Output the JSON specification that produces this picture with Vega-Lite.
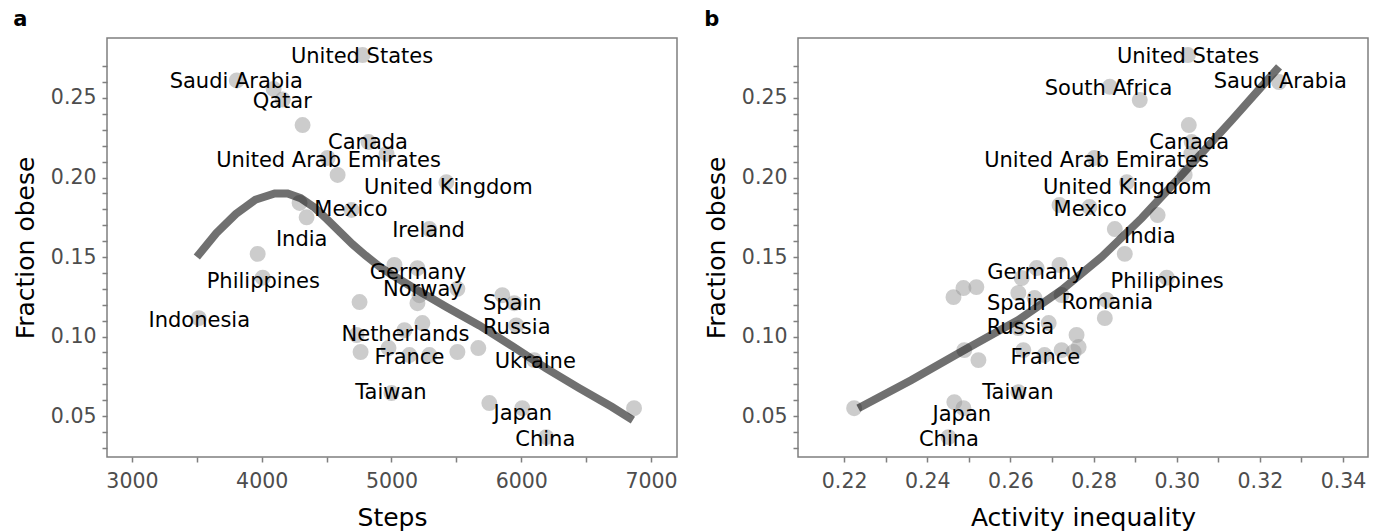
{
  "$schema": "https://vega.github.io/schema/vega-lite/v6.json",
  "padding": {"left": 12, "top": 8, "right": 5, "bottom": 2},
  "spacing": 25,
  "config": {
    "font": "DejaVu Sans",
    "view": {"stroke": "#7f7f7f", "strokeWidth": 1.5},
    "axis": {
      "domain": false, "grid": false,
      "tickColor": "#7f7f7f", "tickWidth": 1.5, "tickSize": 5,
      "labelColor": "#4d4d4d", "labelFontSize": 20.5, "labelFont": "DejaVu Sans",
      "titleFont": "DejaVu Sans", "titleFontSize": 25, "titleFontWeight": "normal", "titleColor": "black",
      "labelOverlap": false, "labelFlush": false, "labelBound": false
    },
    "axisX": {"labelPadding": 9, "titlePadding": 14},
    "axisY": {"labelPadding": 6, "titlePadding": 12},
    "title": {"fontSize": 21, "fontWeight": "bold", "anchor": "start", "frame": "bounds", "color": "black", "font": "DejaVu Sans", "offset": 8, "baseline": "alphabetic"}
  },
  "datasets": {
    "stepsPts": [
      {"steps": 4777, "obese": 0.277}, {"steps": 3808, "obese": 0.261}, {"steps": 4092, "obese": 0.2557},
      {"steps": 4162, "obese": 0.249}, {"steps": 4315, "obese": 0.233}, {"steps": 4823, "obese": 0.2223},
      {"steps": 4962, "obese": 0.2148}, {"steps": 4508, "obese": 0.2123}, {"steps": 4585, "obese": 0.2016},
      {"steps": 5423, "obese": 0.197}, {"steps": 4292, "obese": 0.184}, {"steps": 4692, "obese": 0.1796},
      {"steps": 4346, "obese": 0.175}, {"steps": 5292, "obese": 0.1676}, {"steps": 3969, "obese": 0.152},
      {"steps": 4008, "obese": 0.137}, {"steps": 3515, "obese": 0.1116}, {"steps": 4754, "obese": 0.1217},
      {"steps": 4731, "obese": 0.101}, {"steps": 4762, "obese": 0.0903}, {"steps": 4977, "obese": 0.0928},
      {"steps": 5000, "obese": 0.0645}, {"steps": 5023, "obese": 0.145}, {"steps": 5200, "obese": 0.143},
      {"steps": 5215, "obese": 0.126}, {"steps": 5508, "obese": 0.13}, {"steps": 5200, "obese": 0.121},
      {"steps": 5854, "obese": 0.126}, {"steps": 5946, "obese": 0.121}, {"steps": 5962, "obese": 0.107},
      {"steps": 5238, "obese": 0.1085}, {"steps": 5100, "obese": 0.104}, {"steps": 5138, "obese": 0.0884},
      {"steps": 5292, "obese": 0.0884}, {"steps": 5508, "obese": 0.0903}, {"steps": 5669, "obese": 0.0928},
      {"steps": 6100, "obese": 0.0852}, {"steps": 5754, "obese": 0.0582}, {"steps": 6008, "obese": 0.055},
      {"steps": 6192, "obese": 0.0368}, {"steps": 6869, "obese": 0.055}
    ],
    "stepsFit": [
      {"steps": 3500, "obese": 0.150}, {"steps": 3650, "obese": 0.165}, {"steps": 3800, "obese": 0.177},
      {"steps": 3950, "obese": 0.186}, {"steps": 4100, "obese": 0.190}, {"steps": 4200, "obese": 0.190},
      {"steps": 4300, "obese": 0.187}, {"steps": 4408, "obese": 0.181}, {"steps": 4500, "obese": 0.174},
      {"steps": 4600, "obese": 0.166}, {"steps": 4700, "obese": 0.158}, {"steps": 4800, "obese": 0.151},
      {"steps": 4908, "obese": 0.144}, {"steps": 5000, "obese": 0.139}, {"steps": 5162, "obese": 0.131},
      {"steps": 5423, "obese": 0.1186}, {"steps": 5677, "obese": 0.107}, {"steps": 5931, "obese": 0.094},
      {"steps": 6192, "obese": 0.080}, {"steps": 6446, "obese": 0.0676}, {"steps": 6700, "obese": 0.0557},
      {"steps": 6860, "obese": 0.0475}
    ],
    "stepsLabels": [
      {"country": "United States", "steps": 4773, "obese": 0.2761},
      {"country": "Saudi Arabia", "steps": 3804, "obese": 0.2604},
      {"country": "Qatar", "steps": 4158, "obese": 0.2478},
      {"country": "Canada", "steps": 4819, "obese": 0.2226},
      {"country": "United Arab Emirates", "steps": 4515, "obese": 0.211},
      {"country": "United Kingdom", "steps": 5438, "obese": 0.1943},
      {"country": "Mexico", "steps": 4688, "obese": 0.1799},
      {"country": "Ireland", "steps": 5285, "obese": 0.167},
      {"country": "India", "steps": 4308, "obese": 0.1616},
      {"country": "Philippines", "steps": 4012, "obese": 0.1349},
      {"country": "Indonesia", "steps": 3519, "obese": 0.1104},
      {"country": "Germany", "steps": 5204, "obese": 0.1409},
      {"country": "Norway", "steps": 5242, "obese": 0.1302},
      {"country": "Spain", "steps": 5931, "obese": 0.1214},
      {"country": "Russia", "steps": 5965, "obese": 0.1063},
      {"country": "Netherlands", "steps": 5108, "obese": 0.1019},
      {"country": "France", "steps": 5138, "obese": 0.0874},
      {"country": "Ukraine", "steps": 6108, "obese": 0.0846},
      {"country": "Taiwan", "steps": 4996, "obese": 0.0654},
      {"country": "Japan", "steps": 6012, "obese": 0.0522},
      {"country": "China", "steps": 6185, "obese": 0.0355}
    ],
    "ineqPts": [
      {"ineq": 0.3027, "obese": 0.277}, {"ineq": 0.3246, "obese": 0.260}, {"ineq": 0.2839, "obese": 0.257},
      {"ineq": 0.2911, "obese": 0.2487}, {"ineq": 0.3029, "obese": 0.233}, {"ineq": 0.3036, "obese": 0.2223},
      {"ineq": 0.3035, "obese": 0.2148}, {"ineq": 0.2802, "obese": 0.2123}, {"ineq": 0.3019, "obese": 0.2016},
      {"ineq": 0.288, "obese": 0.197}, {"ineq": 0.2718, "obese": 0.1827}, {"ineq": 0.279, "obese": 0.1814},
      {"ineq": 0.2954, "obese": 0.1764}, {"ineq": 0.2851, "obese": 0.1676}, {"ineq": 0.2875, "obese": 0.152},
      {"ineq": 0.2976, "obese": 0.137}, {"ineq": 0.2831, "obese": 0.123}, {"ineq": 0.2827, "obese": 0.1116},
      {"ineq": 0.2463, "obese": 0.1248}, {"ineq": 0.2487, "obese": 0.1305}, {"ineq": 0.2518, "obese": 0.1311},
      {"ineq": 0.2627, "obese": 0.1368}, {"ineq": 0.2663, "obese": 0.1431}, {"ineq": 0.2718, "obese": 0.145},
      {"ineq": 0.2619, "obese": 0.1274}, {"ineq": 0.2658, "obese": 0.1242}, {"ineq": 0.2723, "obese": 0.1261},
      {"ineq": 0.2619, "obese": 0.1053}, {"ineq": 0.2692, "obese": 0.1085}, {"ineq": 0.2759, "obese": 0.101},
      {"ineq": 0.2764, "obese": 0.0934}, {"ineq": 0.2489, "obese": 0.0915}, {"ineq": 0.2523, "obese": 0.0852},
      {"ineq": 0.2631, "obese": 0.0915}, {"ineq": 0.2682, "obese": 0.0884}, {"ineq": 0.2723, "obese": 0.0915},
      {"ineq": 0.2752, "obese": 0.0903}, {"ineq": 0.2619, "obese": 0.0651}, {"ineq": 0.2224, "obese": 0.055},
      {"ineq": 0.2465, "obese": 0.0588}, {"ineq": 0.2487, "obese": 0.055}, {"ineq": 0.2451, "obese": 0.0368}
    ],
    "ineqFit": [
      {"ineq": 0.2234, "obese": 0.055}, {"ineq": 0.2361, "obese": 0.0726}, {"ineq": 0.2489, "obese": 0.0915},
      {"ineq": 0.2619, "obese": 0.1104}, {"ineq": 0.2723, "obese": 0.1292}, {"ineq": 0.2819, "obese": 0.150},
      {"ineq": 0.2916, "obese": 0.1745}, {"ineq": 0.3012, "obese": 0.2016}, {"ineq": 0.3133, "obese": 0.2362},
      {"ineq": 0.3246, "obese": 0.2695}
    ],
    "ineqLabels": [
      {"country": "United States", "ineq": 0.3027, "obese": 0.2761},
      {"country": "Saudi Arabia", "ineq": 0.3249, "obese": 0.2604},
      {"country": "South Africa", "ineq": 0.2836, "obese": 0.256},
      {"country": "Canada", "ineq": 0.303, "obese": 0.2226},
      {"country": "United Arab Emirates", "ineq": 0.2807, "obese": 0.211},
      {"country": "United Kingdom", "ineq": 0.2881, "obese": 0.1943},
      {"country": "Mexico", "ineq": 0.2792, "obese": 0.1799},
      {"country": "India", "ineq": 0.2935, "obese": 0.1632},
      {"country": "Philippines", "ineq": 0.2977, "obese": 0.1349},
      {"country": "Romania", "ineq": 0.2833, "obese": 0.122},
      {"country": "Germany", "ineq": 0.266, "obese": 0.1409},
      {"country": "Spain", "ineq": 0.2614, "obese": 0.1208},
      {"country": "Russia", "ineq": 0.2624, "obese": 0.1063},
      {"country": "France", "ineq": 0.2684, "obese": 0.0874},
      {"country": "Taiwan", "ineq": 0.2618, "obese": 0.0654},
      {"country": "Japan", "ineq": 0.2483, "obese": 0.0516},
      {"country": "China", "ineq": 0.2452, "obese": 0.0358}
    ]
  },
  "hconcat": [
    {
      "title": {"text": "a"},
      "width": 570, "height": 419,
      "encoding": {
        "x": {"field": "steps", "type": "quantitative", "title": "Steps",
              "scale": {"domain": [2808, 7200], "nice": false, "zero": false},
              "axis": {"values": [3000, 3500, 4000, 4500, 5000, 5500, 6000, 6500, 7000],
                       "labelExpr": "datum.value % 1000 === 0 ? format(datum.value, 'd') : ''"}},
        "y": {"field": "obese", "type": "quantitative", "title": "Fraction obese",
              "scale": {"domain": [0.0243, 0.2877], "nice": false, "zero": false},
              "axis": {"values": [0.03, 0.04, 0.05, 0.06, 0.07, 0.08, 0.09, 0.1, 0.11, 0.12, 0.13, 0.14, 0.15, 0.16, 0.17, 0.18, 0.19, 0.2, 0.21, 0.22, 0.23, 0.24, 0.25, 0.26, 0.27],
                       "labelExpr": "round(datum.value * 100) % 5 === 0 ? format(datum.value, '.2f') : ''"}}
      },
      "layer": [
        {"data": {"name": "stepsPts"}, "mark": {"type": "circle", "size": 254, "color": "#999999", "opacity": 0.5}},
        {"data": {"name": "stepsFit"}, "mark": {"type": "line", "color": "#000000", "opacity": 0.56, "strokeWidth": 8}},
        {"data": {"name": "stepsLabels"}, "mark": {"type": "text", "fontSize": 21, "color": "black", "align": "center", "baseline": "middle", "dy": 1, "font": "DejaVu Sans"},
         "encoding": {"text": {"field": "country", "type": "nominal"}}}
      ]
    },
    {
      "title": {"text": "b"},
      "width": 570, "height": 419,
      "encoding": {
        "x": {"field": "ineq", "type": "quantitative", "title": "Activity inequality",
              "scale": {"domain": [0.2089, 0.346], "nice": false, "zero": false},
              "axis": {"values": [0.22, 0.23, 0.24, 0.25, 0.26, 0.27, 0.28, 0.29, 0.3, 0.31, 0.32, 0.33, 0.34],
                       "labelExpr": "round(datum.value * 100) % 2 === 0 ? format(datum.value, '.2f') : ''"}},
        "y": {"field": "obese", "type": "quantitative", "title": "Fraction obese",
              "scale": {"domain": [0.0243, 0.2877], "nice": false, "zero": false},
              "axis": {"values": [0.03, 0.04, 0.05, 0.06, 0.07, 0.08, 0.09, 0.1, 0.11, 0.12, 0.13, 0.14, 0.15, 0.16, 0.17, 0.18, 0.19, 0.2, 0.21, 0.22, 0.23, 0.24, 0.25, 0.26, 0.27],
                       "labelExpr": "round(datum.value * 100) % 5 === 0 ? format(datum.value, '.2f') : ''"}}
      },
      "layer": [
        {"data": {"name": "ineqPts"}, "mark": {"type": "circle", "size": 254, "color": "#999999", "opacity": 0.5}},
        {"data": {"name": "ineqFit"}, "mark": {"type": "line", "color": "#000000", "opacity": 0.56, "strokeWidth": 8}},
        {"data": {"name": "ineqLabels"}, "mark": {"type": "text", "fontSize": 21, "color": "black", "align": "center", "baseline": "middle", "dy": 1, "font": "DejaVu Sans"},
         "encoding": {"text": {"field": "country", "type": "nominal"}}}
      ]
    }
  ]
}
